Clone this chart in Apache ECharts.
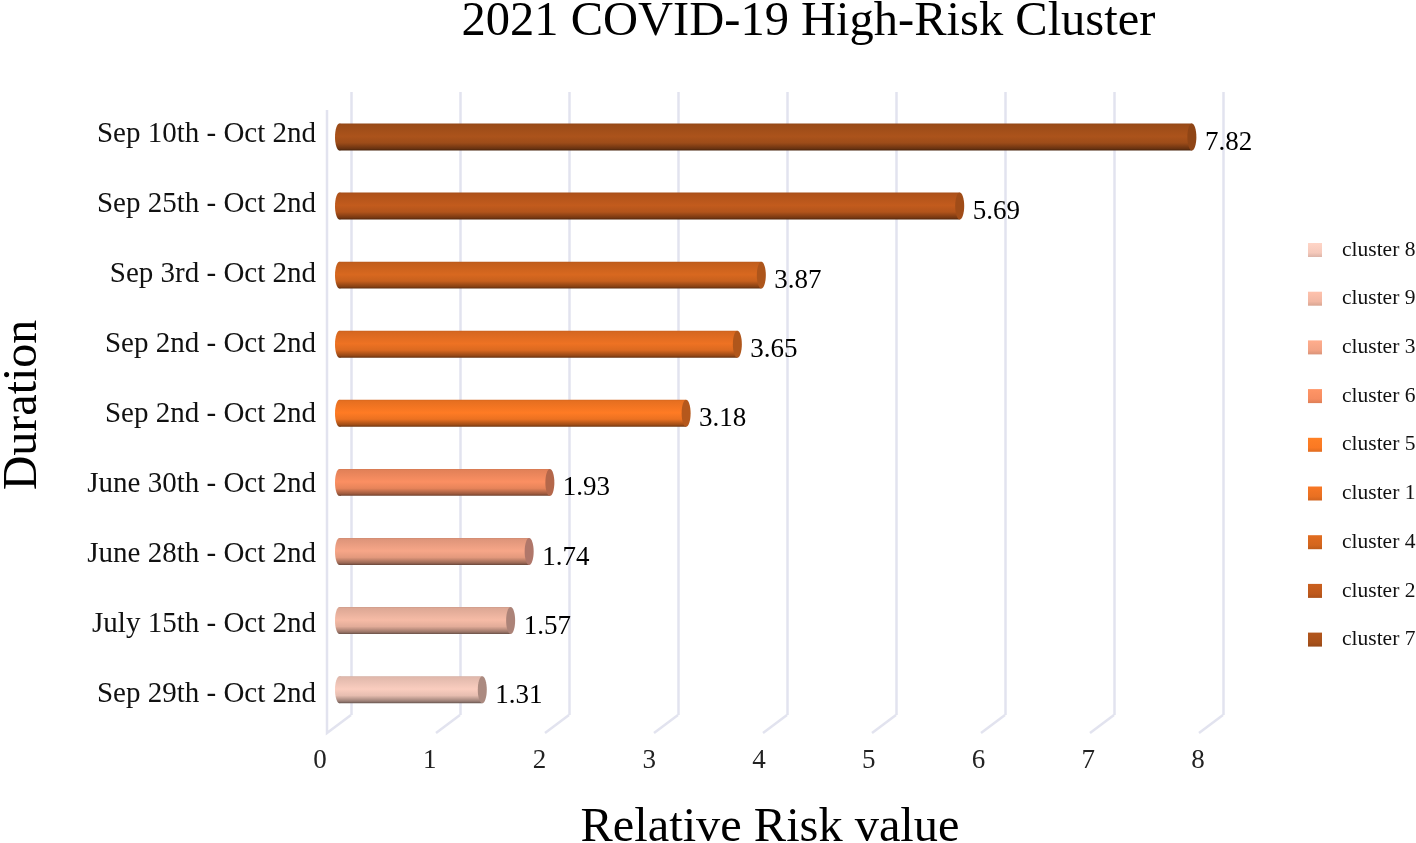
<!DOCTYPE html>
<html>
<head>
<meta charset="utf-8">
<style>html,body{margin:0;padding:0;background:#fff}#c{width:1416px;height:843px}</style>
<script src="https://cdn.jsdelivr.net/npm/echarts@6/dist/echarts.min.js"></script>
</head>
<body>
<div id="c"></div>
<script>
const durations = ['Sep 10th - Oct 2nd','Sep 25th - Oct 2nd','Sep 3rd - Oct 2nd','Sep 2nd - Oct 2nd','Sep 2nd - Oct 2nd','June 30th - Oct 2nd','June 28th - Oct 2nd','July 15th - Oct 2nd','Sep 29th - Oct 2nd'];
const clusters = ['cluster 7','cluster 2','cluster 4','cluster 1','cluster 5','cluster 6','cluster 3','cluster 9','cluster 8'];
const riskValues = [7.82,5.69,3.87,3.65,3.18,1.93,1.74,1.57,1.31];
const baseColors = ['#ab531b','#c25b1d','#d8681f','#ee7223','#ff7b24','#fb8f62','#f7a688','#f6bba6','#facdbf'];
const capColors = ['#8f4516','#a04c18','#ad551b','#b0561b','#b5581c','#b4674a','#b0776a','#ac8378','#ab8a80'];
const xTicks = [0,1,2,3,4,5,6,7,8];
const legendOrder = ['cluster 8','cluster 9','cluster 3','cluster 6','cluster 5','cluster 1','cluster 4','cluster 2','cluster 7'];

const SERIF = '"Liberation Serif","Times New Roman",serif';
const WALL = '#e2e3ef';
const DEPTH_X = -24, DEPTH_Y = 18;

function shade(hex, k) {
  const n = parseInt(hex.slice(1), 16);
  const ch = s => Math.min(255, Math.round(((n >> s) & 255) * k));
  return 'rgb(' + ch(16) + ',' + ch(8) + ',' + ch(0) + ')';
}
function tube(c) {
  return new echarts.graphic.LinearGradient(0, 0, 0, 1, [
    {offset: 0, color: shade(c, 0.84)},
    {offset: 0.05, color: shade(c, 0.9)},
    {offset: 0.48, color: shade(c, 1)},
    {offset: 0.72, color: shade(c, 0.92)},
    {offset: 0.93, color: shade(c, 0.62)},
    {offset: 1, color: shade(c, 0.42)}
  ]);
}
function swatch(c) {
  return new echarts.graphic.LinearGradient(0, 0, 0, 1, [
    {offset: 0, color: shade(c, 1.04)},
    {offset: 0.7, color: shade(c, 0.98)},
    {offset: 1, color: shade(c, 0.88)}
  ]);
}
function barRenderer(color, cap) {
  return function (params, api) {
    const end = api.coord([api.value(0), api.value(1)]);
    const start = api.coord([0, api.value(1)]);
    const h = api.size([0, 1])[1] * 0.39;
    const rx = 4.5, ry = h / 2;
    return {type: 'group', children: [
      {type: 'ellipse', shape: {cx: start[0], cy: end[1], rx: rx, ry: ry}, style: {fill: tube(color)}},
      {type: 'rect', shape: {x: start[0], y: end[1] - ry, width: end[0] - start[0], height: h}, style: {fill: tube(color)}},
      {type: 'ellipse', shape: {cx: end[0], cy: end[1], rx: rx, ry: ry}, style: {fill: cap}},
      {type: 'text', x: end[0] + 13, y: end[1] + 6, style: {
        text: String(api.value(0).toFixed(2)), fill: '#000', font: '27px ' + SERIF, verticalAlign: 'middle', align: 'left'}}
    ]};
  };
}
const barSeries = clusters.map((name, i) => ({
  name: name, type: 'custom', coordinateSystem: 'cartesian2d',
  xAxisIndex: 1, yAxisIndex: 1, z: 5,
  itemStyle: {color: swatch(baseColors[i])},
  encode: {x: 0, y: 1},
  data: [[riskValues[i], i]],
  renderItem: barRenderer(baseColors[i], capColors[i])
}));
const wallSeries = {
  type: 'custom', coordinateSystem: 'cartesian2d', xAxisIndex: 0, yAxisIndex: 0, z: 1, silent: true,
  data: xTicks.map(t => [t, 0]),
  encode: {x: 0, y: 1},
  renderItem: function (params, api) {
    const foot = api.coord([api.value(0), 0]);
    const head = api.coord([api.value(0), 1]);
    const lineStyle = {stroke: WALL, lineWidth: 2.5, fill: null};
    const points = api.value(0) === 0
      ? [[foot[0], foot[1]], [foot[0] + DEPTH_X, foot[1] + DEPTH_Y], [foot[0] + DEPTH_X, head[1] + DEPTH_Y]]
      : [[foot[0], foot[1]], [foot[0] + DEPTH_X, foot[1] + DEPTH_Y]];
    return {type: 'polyline', shape: {points: points}, style: lineStyle};
  }
};

const chart = echarts.init(document.getElementById('c'), null, {renderer: 'canvas'});
chart.setOption({
  animation: false,
  backgroundColor: '#fff',
  title: {
    text: '2021 COVID-19 High-Risk Cluster', left: 803.5, top: -7.5, textAlign: 'center',
    textStyle: {fontFamily: SERIF, fontSize: 48.5, fontWeight: 'normal', color: '#000'}
  },
  legend: {
    orient: 'vertical', left: 1308, top: 238, padding: 0,
    itemWidth: 14, itemHeight: 14, itemGap: 24.7, icon: 'rect', selectedMode: false,
    data: legendOrder,
    textStyle: {fontFamily: SERIF, fontSize: 21.5, color: '#111', lineHeight: 24, padding: [0, 0, 0, 15]}
  },
  grid: [
    {left: 351, width: 872, top: 92, height: 623, outerBoundsMode: 'none'},
    {left: 339.5, width: 872, top: 102.4, height: 621.8, outerBoundsMode: 'none'},
    {left: 320, width: 878, top: 110, height: 623, outerBoundsMode: 'none'},
    {left: 327, width: 872, top: 99, height: 630, outerBoundsMode: 'none'}
  ],
  xAxis: [
    {gridIndex: 0, type: 'value', min: 0, max: 8, interval: 1,
     axisLabel: {show: false}, axisLine: {show: false}, axisTick: {show: false},
     splitLine: {show: true, lineStyle: {color: WALL, width: 2.5}}},
    {gridIndex: 1, type: 'value', min: 0, max: 8, interval: 1, show: false},
    {gridIndex: 2, type: 'value', min: 0, max: 8, interval: 1, position: 'bottom',
     axisLine: {show: false, onZero: false}, axisTick: {show: false}, splitLine: {show: false},
     axisLabel: {fontFamily: SERIF, fontSize: 27, color: '#222', margin: 14},
     name: 'Relative Risk value', nameLocation: 'middle', nameGap: 71, nameMoveOverlap: false,
     nameTextStyle: {fontFamily: SERIF, fontSize: 48.4, color: '#000', padding: [0, 0, 0, 22]}},
    {gridIndex: 3, type: 'value', min: 0, max: 8, show: false}
  ],
  yAxis: [
    {gridIndex: 0, type: 'value', min: 0, max: 1, show: false},
    {gridIndex: 1, type: 'category', data: durations, inverse: true, show: false},
    {gridIndex: 2, type: 'value', min: 0, max: 1, show: false},
    {gridIndex: 3, type: 'category', data: durations, inverse: true,
     axisLine: {show: false, onZero: false}, axisTick: {show: false}, splitLine: {show: false},
     axisLabel: {fontFamily: SERIF, fontSize: 29, color: '#111', margin: 11, interval: 0, align: 'right'},
     name: 'Duration', nameLocation: 'middle', nameGap: 280, nameRotate: 90, nameMoveOverlap: false,
     nameTextStyle: {fontFamily: SERIF, fontSize: 48, color: '#000', padding: [0, 0, 0, 18]}}
  ],
  series: [wallSeries].concat(barSeries)
});
</script>
</body>
</html>
